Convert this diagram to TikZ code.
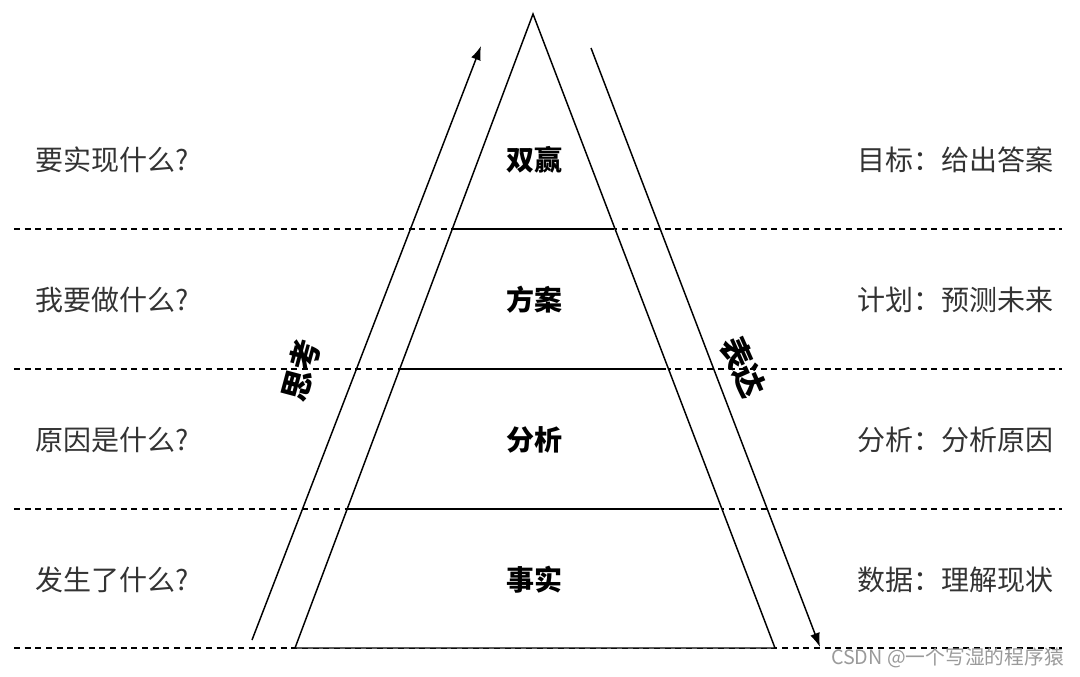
\documentclass[tikz,border=0pt]{standalone}
\usepackage{fontspec}
\setmainfont{Noto Sans CJK SC}
\newfontfamily\cjk{Noto Sans CJK SC}
\usetikzlibrary{arrows.meta}
\definecolor{txtgray}{HTML}{333333}
\definecolor{wmgray}{HTML}{9A9A9A}
\begin{document}
\begin{tikzpicture}[x=0.75pt,y=-0.75pt,
  pline/.style={line width=1.1pt,black},
  dline/.style={line width=1pt,dash pattern=on 4.5pt off 3.5pt,black},
  side/.style={font=\cjk\fontsize{21}{24}\selectfont,text=txtgray,inner sep=0pt},
  mid/.style={font=\cjk\bfseries\fontsize{21}{24}\selectfont,text=black,inner sep=0pt},
  arr/.style={line width=1.1pt,-{Latex[length=10.5pt,width=7.5pt]}},
  vert/.style={font=\cjk\bfseries\fontsize{23.5}{26}\selectfont,inner sep=0pt}]
\useasboundingbox (0,0) rectangle (1080,677);
% pyramid corners
\coordinate (apex) at (533,14);
\coordinate (bl) at (295,648);
\coordinate (br) at (775,648);
% dashed lines
\coordinate (d1a) at (14,229); \coordinate (d1b) at (1062,229);
\coordinate (d2a) at (14,369); \coordinate (d2b) at (1062,369);
\coordinate (d3a) at (14,509); \coordinate (d3b) at (1062,509);
\coordinate (d4a) at (14,648); \coordinate (d4b) at (1062,648);
\draw[dline] (d1a) -- (d1b);
\draw[dline] (d2a) -- (d2b);
\draw[dline] (d3a) -- (d3b);
\draw[dline] (d4a) -- (d4b);
% pyramid
\draw[pline,fill=white] (bl) -- (apex) -- (br) -- cycle;
\coordinate (a1) at (452.3,229); \coordinate (b1) at (613.7,229);
\coordinate (a2) at (399.8,369); \coordinate (b2) at (666.2,369);
\coordinate (a3) at (347.2,509); \coordinate (b3) at (718.8,509);
\draw[pline] (a1) -- (b1);
\draw[pline] (a2) -- (b2);
\draw[pline] (a3) -- (b3);
% arrows
\coordinate (ls) at (252,640); \coordinate (le) at (481,46);
\coordinate (rs) at (591,48); \coordinate (re) at (820,647);
\draw[arr] (ls) -- (le);
\draw[arr] (rs) -- (re);
\node[vert,rotate=75] (think) at (301,370) {思考};
\node[vert,rotate=-66] (express) at (743,367) {表达};
% center labels
\node[mid] (m1) at (534,160) {双赢};
\node[mid] (m2) at (534,300) {方案};
\node[mid] (m3) at (534,440) {分析};
\node[mid] (m4) at (534,580) {事实};
% left labels
\node[side,anchor=west] (q1) at (35,160) {要实现什么?};
\node[side,anchor=west] (q2) at (35,300) {我要做什么?};
\node[side,anchor=west] (q3) at (35,440) {原因是什么?};
\node[side,anchor=west] (q4) at (35,580) {发生了什么?};
% right labels
\node[side,anchor=east] (r1) at (1054,160) {目标：给出答案};
\node[side,anchor=east] (r2) at (1054,300) {计划：预测未来};
\node[side,anchor=east] (r3) at (1054,440) {分析：分析原因};
\node[side,anchor=east] (r4) at (1054,580) {数据：理解现状};
% watermark
\node[font=\cjk\fontsize{14.8}{16}\selectfont,text=wmgray,anchor=east,inner sep=0pt] (wm) at (1064,658) {CSDN @一个写湿的程序猿};
\end{tikzpicture}
\end{document}
